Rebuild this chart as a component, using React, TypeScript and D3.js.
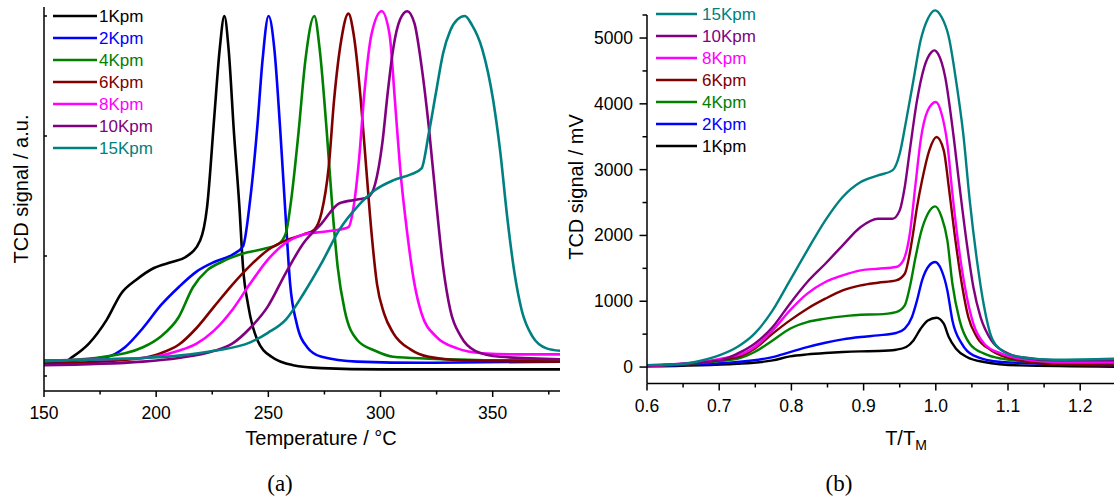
import React from "react";
import * as d3 from "d3";

// ---------- Panel (a): TCD signal (a.u.) vs Temperature ----------
const seriesNames = ["1Kpm", "2Kpm", "4Kpm", "6Kpm", "8Kpm", "10Kpm", "15Kpm"];
const seriesColors = ["#000000", "#0000ff", "#008000", "#800000", "#ff00ff", "#800080", "#008080"];

const a1K: [number, number][] = [[150,.12],[160,.125],[162,.15],[170,.27],[178,.47],[184.5,.69],[191,.80],[199,.90],[207,.95],[213,.99],[219.6,1.13],[222.7,1.41],[225.9,2.16],[228.3,2.72],[230.4,3.0],[232.3,2.72],[234.7,2.02],[237.1,1.41],[238.7,.91],[241.1,.58],[245.1,.30],[251.4,.16],[261,.09],[273.7,.066],[300,.055],[380,.055]];
const a2K: [number, number][] = [[150,.11],[178.2,.16],[186.1,.24],[194.1,.40],[202.1,.59],[210,.74],[218,.87],[225.9,.95],[233.9,1.01],[238.7,1.08],[241.9,1.47],[245.1,2.08],[247.4,2.63],[250.1,3.0],[252.7,2.72],[255.4,2.02],[257.8,1.3],[259.7,.77],[262.6,.44],[267.3,.24],[273.7,.16],[289.6,.12],[320,.11],[380,.12]];
const a4K: [number, number][] = [[150,.12],[186.1,.19],[194.1,.24],[202.1,.33],[210,.49],[216.4,.74],[222.7,.88],[229.1,.95],[238.7,1.02],[248.2,1.06],[254.6,1.1],[257.8,1.19],[260.2,1.47],[263.4,2.02],[266.5,2.63],[270.5,3.0],[272.9,2.72],[276.1,2.02],[278.5,1.41],[280.9,.91],[284,.55],[289.6,.30],[297.6,.21],[305.6,.16],[321.5,.145],[353.3,.13],[380,.13]];
const a6K: [number, number][] = [[150,.10],[194.1,.15],[202.1,.19],[210,.26],[218,.40],[225.9,.58],[233.9,.76],[241.9,.92],[249.8,1.05],[257.8,1.13],[265.8,1.18],[270.5,1.22],[273.7,1.36],[276.9,1.74],[279.3,2.3],[282.5,2.8],[285.7,3.02],[288,2.85],[291.2,2.3],[293.6,1.74],[296,1.19],[298.4,.77],[301.6,.52],[305.6,.36],[313.5,.22],[321.5,.16],[337.4,.13],[380,.12]];
const a8K: [number, number][] = [[150,.13],[194.1,.15],[210,.21],[218,.27],[225.9,.38],[233.9,.55],[241.9,.77],[249.8,.97],[257.8,1.11],[265.8,1.18],[273.7,1.2],[281.7,1.22],[285.7,1.24],[288,1.41],[290.4,1.8],[292.8,2.36],[296,2.85],[300.5,3.04],[304,2.85],[306.4,2.3],[308.7,1.74],[311.9,1.19],[315.1,.77],[318.3,.52],[324.7,.33],[334.2,.23],[345.4,.19],[361.3,.18],[380,.18]];
const a10K: [number, number][] = [[150,.09],[194.1,.12],[210,.15],[225.9,.21],[233.9,.27],[241.9,.40],[249.8,.58],[257.8,.86],[265.8,1.11],[273.7,1.27],[281.7,1.44],[289.6,1.47],[294.4,1.49],[297.6,1.6],[300.8,1.94],[303.2,2.36],[305.6,2.72],[308.7,2.97],[311.9,3.04],[315.1,2.94],[318.3,2.58],[321.5,2.08],[324.7,1.47],[327.9,.91],[331.1,.55],[335.8,.33],[342.2,.21],[353.3,.16],[380,.14]];
const a15K: [number, number][] = [[150,.13],[194.1,.15],[210,.17],[225.9,.21],[241.9,.28],[249.8,.36],[257.8,.47],[265.8,.69],[273.7,.94],[281.7,1.22],[289.6,1.41],[297.6,1.55],[305.6,1.63],[313.5,1.68],[318.3,1.73],[321.5,2.02],[324.7,2.36],[327.9,2.69],[331.1,2.88],[334.2,2.97],[337.6,3.0],[340.6,2.93],[345.4,2.72],[350.2,2.3],[353.3,1.88],[356.5,1.32],[359.7,.86],[362.9,.55],[367.7,.33],[374,.23],[380,.21]];
const panelASeries = [a1K, a2K, a4K, a6K, a8K, a10K, a15K];

const aXTicks = [150, 200, 250, 300, 350];
const aXMinor = [175, 225, 275, 325, 375];
const aYTicks = [0, 1, 2, 3];

// ---------- Panel (b): TCD signal (mV) vs T/TM ----------
const b1K: [number, number][] = [[0.6,10],[0.725,50],[0.774,101],[0.798,162],[0.822,192],[0.847,213],[0.871,228],[0.896,238],[0.92,243],[0.945,263],[0.959,304],[0.969,405],[0.979,583],[0.989,709],[1.001,750],[1.011,659],[1.018,456],[1.028,279],[1.043,152],[1.067,76],[1.116,25],[1.25,5]];
const b2K: [number, number][] = [[0.6,15],[0.725,76],[0.774,152],[0.798,228],[0.822,304],[0.847,370],[0.871,420],[0.896,456],[0.92,481],[0.945,517],[0.957,583],[0.967,760],[0.974,1013],[0.981,1317],[0.991,1545],[0.999,1596],[1.008,1469],[1.016,1165],[1.023,709],[1.036,355],[1.052,177],[1.091,76],[1.25,25]];
const b4K: [number, number][] = [[0.6,15],[0.725,127],[0.749,228],[0.774,405],[0.798,583],[0.822,684],[0.847,735],[0.871,770],[0.896,795],[0.92,800],[0.945,836],[0.957,937],[0.964,1216],[0.972,1672],[0.979,2026],[0.989,2330],[0.999,2442],[1.008,2280],[1.016,1925],[1.023,1266],[1.033,709],[1.047,355],[1.067,203],[1.091,127],[1.14,76],[1.25,51]];
const b6K: [number, number][] = [[0.6,15],[0.725,152],[0.749,279],[0.774,507],[0.798,709],[0.822,887],[0.847,1039],[0.871,1165],[0.896,1241],[0.92,1282],[0.945,1317],[0.957,1418],[0.967,1925],[0.974,2432],[0.981,2837],[0.991,3293],[1.001,3496],[1.011,3293],[1.018,2736],[1.026,2026],[1.036,1266],[1.045,760],[1.057,456],[1.077,253],[1.116,101],[1.165,41],[1.25,25]];
const b8K: [number, number][] = [[0.6,15],[0.725,177],[0.749,304],[0.774,557],[0.798,861],[0.822,1115],[0.847,1292],[0.871,1393],[0.896,1469],[0.92,1494],[0.945,1520],[0.955,1621],[0.964,2026],[0.972,2786],[0.979,3445],[0.989,3901],[1.0,4027],[1.008,3850],[1.016,3394],[1.023,2634],[1.033,1722],[1.043,1064],[1.052,659],[1.067,355],[1.091,203],[1.116,127],[1.165,76],[1.25,76]];
const b10K: [number, number][] = [[0.6,20],[0.7,101],[0.725,203],[0.749,355],[0.774,608],[0.798,963],[0.822,1292],[0.847,1570],[0.871,1849],[0.896,2128],[0.92,2254],[0.94,2254],[0.95,2381],[0.957,2736],[0.964,3293],[0.974,4053],[0.984,4559],[0.994,4787],[0.998,4813],[1.003,4762],[1.013,4407],[1.023,3648],[1.033,2736],[1.043,1874],[1.052,1216],[1.062,760],[1.077,405],[1.096,228],[1.116,152],[1.165,101],[1.25,101]];
const b15K: [number, number][] = [[0.6,30],[0.651,50],[0.676,100],[0.7,177],[0.725,304],[0.749,507],[0.774,861],[0.798,1317],[0.822,1773],[0.847,2229],[0.871,2584],[0.896,2812],[0.92,2913],[0.94,2989],[0.95,3242],[0.959,3749],[0.969,4357],[0.979,4965],[0.989,5294],[0.999,5421],[1.008,5319],[1.018,5015],[1.028,4357],[1.038,3546],[1.047,2533],[1.057,1621],[1.067,912],[1.077,456],[1.091,253],[1.116,152],[1.165,111],[1.25,127]];
const panelBSeries = [b1K, b2K, b4K, b6K, b8K, b10K, b15K];

const bXTicks = [0.6, 0.7, 0.8, 0.9, 1.0, 1.1, 1.2];
const bXMinor = [0.65, 0.75, 0.85, 0.95, 1.05, 1.15, 1.25];
const bYTicks = [0, 1000, 2000, 3000, 4000, 5000];
const bYMinor = [500, 1500, 2500, 3500, 4500];

const FONT = "'Liberation Sans', Arial, Helvetica, sans-serif";

export default function App() {
  const W = 1114, H = 503;

  const ax = d3.scaleLinear().domain([150, 380]).range([44, 560]);
  const ay = d3.scaleLinear().domain([-0.125, 3.075]).range([391, 7]);
  const aLineGen = d3.line<[number, number]>().x(d => ax(d[0])).y(d => ay(d[1])).curve(d3.curveMonotoneX);

  const bx = d3.scaleLinear().domain([0.6, 1.25]).range([647, 1116.3]);
  const by = d3.scaleLinear().domain([-250, 5350]).range([383.5, 15]);
  const bLineGen = d3.line<[number, number]>().x(d => bx(d[0])).y(d => by(d[1])).curve(d3.curveMonotoneX);

  const aBottom = 391, aLeft = 44;
  const bBottom = 383.5, bLeft = 647;

  const bLegendOrder = [6, 5, 4, 3, 2, 1, 0];

  return (
    <svg width={W} height={H} style={{ position: "absolute", left: 0, top: 0, background: "#fff" }} fontFamily={FONT}>
      <rect x={0} y={0} width={W} height={H} fill="#fff" />
      {/* ===== Panel A ===== */}
      <g>
        {panelASeries.map((s, i) => (
          <path key={i} d={aLineGen(s) || ""} fill="none" stroke={seriesColors[i]} strokeWidth={2.6} strokeLinejoin="round" />
        ))}
        <line x1={aLeft} x2={560} y1={aBottom} y2={aBottom} stroke="#000" strokeWidth={1.5} />
        <line x1={aLeft} x2={aLeft} y1={7} y2={aBottom} stroke="#000" strokeWidth={1.5} />
        {aXTicks.map(t => (
          <g key={t}>
            <line x1={ax(t)} x2={ax(t)} y1={aBottom} y2={aBottom + 6} stroke="#000" strokeWidth={1.5} />
            <text x={ax(t)} y={419} textAnchor="middle" fontSize={17.5}>{t}</text>
          </g>
        ))}
        {aXMinor.map(t => (
          <line key={t} x1={ax(t)} x2={ax(t)} y1={aBottom} y2={aBottom + 3.5} stroke="#000" strokeWidth={1.5} />
        ))}
        {aYTicks.map(t => (
          <line key={t} x1={aLeft} x2={aLeft + 3} y1={ay(t)} y2={ay(t)} stroke="#000" strokeWidth={1.5} />
        ))}
        <text x={321} y={445} textAnchor="middle" fontSize={20}>Temperature / °C</text>
        <text transform={`translate(28,189) rotate(-90)`} textAnchor="middle" fontSize={20}>TCD signal / a.u.</text>
        {seriesNames.map((n, i) => (
          <g key={n}>
            <line x1={53} x2={97} y1={16 + 22 * i} y2={16 + 22 * i} stroke={seriesColors[i]} strokeWidth={2.6} />
            <text x={99} y={16 + 22 * i + 6} fontSize={17} fill={seriesColors[i]}>{n}</text>
          </g>
        ))}
        <text x={280} y={491} textAnchor="middle" fontSize={23} fontFamily="'Liberation Serif', 'DejaVu Serif', serif">(a)</text>
      </g>

      {/* ===== Panel B ===== */}
      <g>
        {panelBSeries.map((s, i) => (
          <path key={i} d={bLineGen(s) || ""} fill="none" stroke={seriesColors[i]} strokeWidth={2.4} strokeLinejoin="round" />
        ))}
        <line x1={bLeft} x2={1114} y1={bBottom} y2={bBottom} stroke="#000" strokeWidth={1.5} />
        <line x1={bLeft} x2={bLeft} y1={15} y2={bBottom} stroke="#000" strokeWidth={1.5} />
        <line x1={bLeft - 4.5} x2={bLeft} y1={15} y2={15} stroke="#000" strokeWidth={1.5} />
        {bXTicks.map(t => (
          <g key={t}>
            <line x1={bx(t)} x2={bx(t)} y1={bBottom} y2={bBottom + 7} stroke="#000" strokeWidth={1.5} />
            <text x={bx(t)} y={412} textAnchor="middle" fontSize={17.5}>{d3.format(".1f")(t)}</text>
          </g>
        ))}
        {bXMinor.map(t => (
          <line key={t} x1={bx(t)} x2={bx(t)} y1={bBottom} y2={bBottom + 4} stroke="#000" strokeWidth={1.5} />
        ))}
        {bYTicks.map(t => (
          <g key={t}>
            <line x1={bLeft - 7.5} x2={bLeft} y1={by(t)} y2={by(t)} stroke="#000" strokeWidth={1.5} />
            <text x={633} y={by(t) + 6} textAnchor="end" fontSize={17.5}>{t}</text>
          </g>
        ))}
        {bYMinor.map(t => (
          <line key={t} x1={bLeft - 4.5} x2={bLeft} y1={by(t)} y2={by(t)} stroke="#000" strokeWidth={1.5} />
        ))}
        <text x={906} y={445} textAnchor="middle" fontSize={20}>
          T/T<tspan fontSize={14} dy={5}>M</tspan>
        </text>
        <text transform={`translate(583,187) rotate(-90)`} textAnchor="middle" fontSize={20}>TCD signal / mV</text>
        {bLegendOrder.map((si, row) => (
          <g key={si}>
            <line x1={656} x2={697} y1={14 + 22 * row} y2={14 + 22 * row} stroke={seriesColors[si]} strokeWidth={2.6} />
            <text x={702} y={14 + 22 * row + 6} fontSize={17} fill={seriesColors[si]}>{seriesNames[si]}</text>
          </g>
        ))}
        <text x={839} y={491} textAnchor="middle" fontSize={23} fontFamily="'Liberation Serif', 'DejaVu Serif', serif">(b)</text>
      </g>
    </svg>
  );
}
